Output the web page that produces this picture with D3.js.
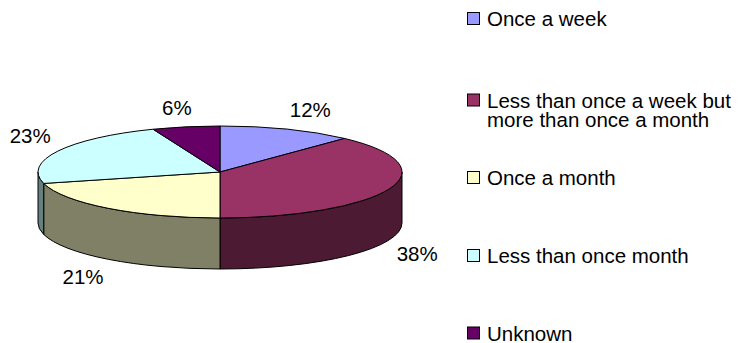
<!DOCTYPE html>
<html>
<head>
<meta charset="utf-8">
<script src="https://cdn.jsdelivr.net/npm/d3@7/dist/d3.min.js"></script>
<style>
  html, body { margin: 0; padding: 0; background: #ffffff; }
  svg { display: block; }
  text { font-family: "Liberation Sans", Arial, sans-serif; fill: #000; }
</style>
</head>
<body>
<svg id="chart" width="738" height="343"></svg>
<script>
// Survey answers: how often respondents do it
const categories = [
  "Once a week",
  "Less than once a week but more than once a month",
  "Once a month",
  "Less than once month",
  "Unknown"
];
const values = [12, 38, 21, 23, 6];
const valueLabels = ["12%", "38%", "21%", "23%", "6%"];
const legendLines = [
  ["Once a week"],
  ["Less than once a week but", "more than once a month"],
  ["Once a month"],
  ["Less than once month"],
  ["Unknown"]
];
const topColors = ["#9999ff", "#993366", "#ffffcc", "#ccffff", "#660066"];

const W = 738, H = 343;
const svg = d3.select("#chart");
const fontSize = 20.5;

// Tilted pie geometry
const cx = 220, cy = 172, rx = 182, ry = 46, depth = 51;

const color = d3.scaleOrdinal().domain(categories).range(topColors);
const sideColor = c => { const k = d3.rgb(c); return d3.rgb(k.r / 2, k.g / 2, k.b / 2).formatHex(); };

const pie = d3.pie().sort(null).value(d => d.value).startAngle(0).endAngle(2 * Math.PI);
const arcs = pie(categories.map((c, i) => ({ cat: c, value: values[i], label: valueLabels[i] })));

// Angle measured clockwise from 12 o'clock
const pt = (a, dy = 0) => [cx + rx * Math.sin(a), cy - ry * Math.cos(a) + dy];

function topPath(a0, a1) {
  const p0 = pt(a0), p1 = pt(a1);
  const large = (a1 - a0) > Math.PI ? 1 : 0;
  return `M${cx},${cy}L${p0[0]},${p0[1]}A${rx},${ry} 0 ${large} 1 ${p1[0]},${p1[1]}Z`;
}

function sidePath(a0, a1) {
  // only the front half of the rim (pi/2 .. 3pi/2) is visible
  const s = Math.max(a0, Math.PI / 2), e = Math.min(a1, 3 * Math.PI / 2);
  if (e <= s) return null;
  const p0 = pt(s), p1 = pt(e), q1 = pt(e, depth), q0 = pt(s, depth);
  return `M${p0[0]},${p0[1]}A${rx},${ry} 0 0 1 ${p1[0]},${p1[1]}` +
         `L${q1[0]},${q1[1]}A${rx},${ry} 0 0 0 ${q0[0]},${q0[1]}Z`;
}

const g = svg.append("g");

// rim walls
g.selectAll("path.side")
  .data(arcs.filter(d => sidePath(d.startAngle, d.endAngle)))
  .join("path")
  .attr("class", "side")
  .attr("d", d => sidePath(d.startAngle, d.endAngle))
  .attr("fill", d => sideColor(color(d.data.cat)))
  .attr("stroke", "#000")
  .attr("stroke-width", 1)
  .attr("stroke-linejoin", "round");

// top faces
g.selectAll("path.top")
  .data(arcs)
  .join("path")
  .attr("class", "top")
  .attr("d", d => topPath(d.startAngle, d.endAngle))
  .attr("fill", d => color(d.data.cat))
  .attr("stroke", "#000")
  .attr("stroke-width", 1)
  .attr("stroke-linejoin", "round");

// percentage labels placed just outside the rim
const gap = 8, k = 2.7;
const clamp = v => Math.max(-1, Math.min(1, v));
g.selectAll("text.pct")
  .data(arcs)
  .join("text")
  .attr("class", "pct")
  .attr("font-size", fontSize)
  .attr("text-anchor", "middle")
  .attr("dy", "0.35em")
  .text(d => d.data.label)
  .each(function (d) {
    const a = (d.startAngle + d.endAngle) / 2;
    const s = Math.sin(a), c = Math.cos(a);
    const edge = pt(a, c < 0 ? depth : 0);
    const bb = this.getBBox();
    const x = edge[0] + gap * s + (bb.width / 2) * clamp(s * k);
    const y = edge[1] - gap * c - (bb.height / 2) * clamp(c * k);
    d3.select(this).attr("x", x).attr("y", y);
  });

// legend
const legendX = 467, textX = 487, lineH = 19;
const legendBase = [26, 107.5, 185, 263, 340.5];
const leg = svg.append("g");
legendLines.forEach((lines, i) => {
  const item = leg.append("g");
  item.append("rect")
    .attr("x", legendX + 0.5)
    .attr("y", legendBase[i] - 13.5)
    .attr("width", 12)
    .attr("height", 12)
    .attr("fill", color(categories[i]))
    .attr("stroke", "#000")
    .attr("stroke-width", 1);
  const t = item.append("text")
    .attr("x", textX)
    .attr("y", legendBase[i])
    .attr("font-size", fontSize);
  lines.forEach((ln, j) => {
    t.append("tspan").attr("x", textX).attr("dy", j === 0 ? 0 : lineH).text(ln);
  });
});
</script>
</body>
</html>
